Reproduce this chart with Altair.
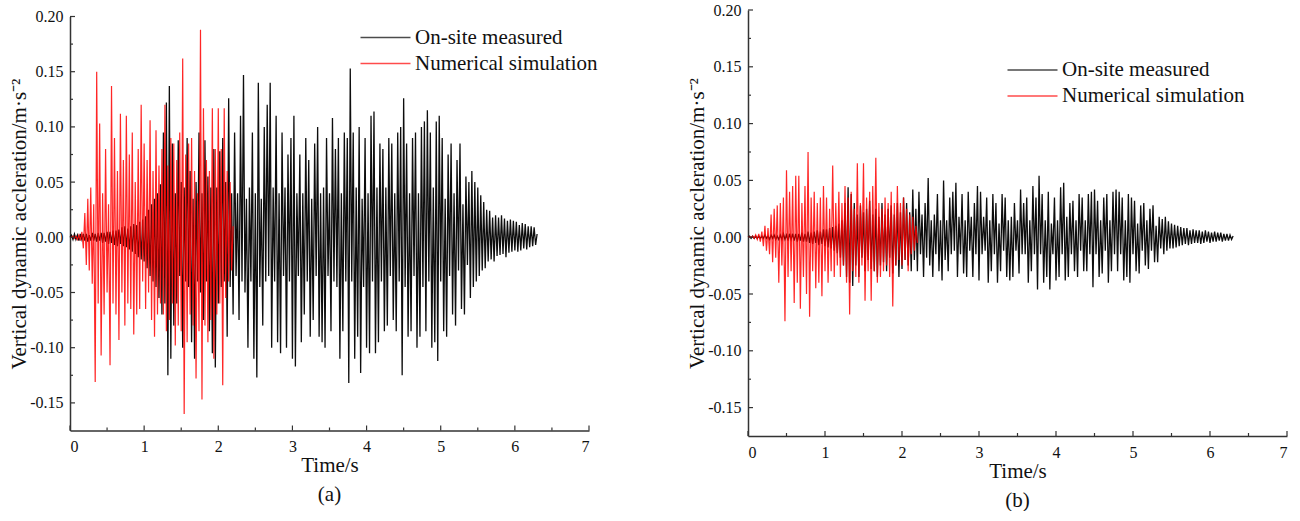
import altair as alt
import numpy as np
import pandas as pd

# ---------------- data (acceleration in 1e-3 m/s^2, sampled every DT s) -------------
DT = 0.02
SERIES = ["On-site measured", "Numerical simulation"]

MEAS_A = [
    0, 2, -2, 3, -2, 2, -3, 3, -2, 3,
    -3, 3, -4, 2, -3, 4, -3, 3, -4, 4,
    -3, 4, -5, 4, -4, 5, -6, 5, -5, 6,
    -7, 6, -8, 7, -6, 9, -8, 10, -9, 8,
    -11, 10, -13, 12, -15, 11, -18, 14, -20, 16,
    -22, 19, -28, 25, -35, 30, -40, 35, -45, 40,
    -55, 48, -70, 95, -60, 122, -125, 137, -110, 85,
    -80, 40, -60, 88, -35, 50, -100, 45, -40, 90,
    -45, 60, -95, 35, -110, 50, -40, 95, -50, 40,
    -75, 88, -40, 55, -85, 45, -105, 80, -118, 45,
    -60, 78, -45, 90, -40, 50, -90, 126, -45, 40,
    -70, 95, -35, 40, -75, 110, -40, 147, -50, 35,
    -100, 45, -40, 95, -110, 40, -127, 140, -45, 35,
    -80, 100, -40, 120, -35, 140, -100, 45, -40, 110,
    -95, 40, -105, 95, -35, 45, -100, 75, -40, 90,
    -110, 110, -117, 40, -35, 75, -95, 40, -70, 90,
    -40, 70, -90, 35, -75, 85, -35, 100, -90, 40,
    -95, 45, -100, 90, -35, 40, -85, 108, -40, 80,
    -45, 90, -110, 40, -85, 95, -40, 90, -132, 153,
    -40, 95, -110, 45, -90, 100, -123, 35, -45, 90,
    -100, 40, -105, 110, -40, 114, -105, 45, -95, 85,
    -40, 80, -85, 45, -80, 90, -35, 85, -75, 40,
    -85, 95, -40, 100, -125, 126, -45, 85, -90, 40,
    -85, 90, -35, 95, -100, 40, -90, 100, -45, 105,
    -85, 115, -40, 95, -100, 45, -95, 105, -112, 110,
    -40, 90, -85, 35, -90, 75, -35, 85, -70, 40,
    -80, 70, -30, 85, -65, 30, -70, 55, -25, 50,
    -55, 60, -45, 50, -40, 45, -35, 38, -30, 32,
    -28, 25, -22, 24, -20, 18, -22, 20, -17, 18,
    -16, 20, -15, 17, -18, 15, -14, 16, -13, 15,
    -12, 14, -13, 11, -12, 13, -10, 12, -11, 10,
    -9, 10, -8, 9, -7, 3,
]

SIM_A = [
    0, 0, 1, -1, 1, -2, 2, -3, 5, -10,
    22, -25, 35, -30, 45, -42, 30, -131, 150, -60,
    103, -107, 40, -70, 80, -50, 30, -116, 137, -60,
    90, -70, 60, -93, 112, -50, 70, -80, 110, -60,
    75, -65, 95, -88, 50, -70, 80, -65, 120, -40,
    85, -65, 70, -50, 106, -75, 60, -90, 97, -70,
    65, -60, 80, -70, 120, -85, 65, -75, 90, -60,
    85, -98, 70, -80, 95, -85, 162, -160, 75, -95,
    85, -70, 90, -80, 60, -128, 40, -85, 188, -147,
    117, -80, 70, -95, 60, -75, 117, -110, 80, -70,
    117, -60, 80, -134, 117, -55, 60, -40, 50, -30,
    10,
]

MEAS_B = [
    0, 1, -1, 1, -1, 1, -1, 1, -1, 1,
    -1, 2, -1, 1, -2, 2, -1, 2, -2, 1,
    -2, 2, -2, 3, -2, 2, -3, 3, -2, 3,
    -3, 3, -4, 3, -3, 4, -4, 3, -4, 5,
    -5, 4, -6, 5, -5, 6, -7, 5, -6, 7,
    -8, 7, -9, 8, -10, 9, -12, 10, -14, 12,
    -18, 15, -25, 30, -35, 44, -40, 38, -43, 30,
    -25, 20, -35, 28, -18, 22, -30, 25, -20, 32,
    -28, 20, -30, 25, -35, 18, -25, 30, -22, 20,
    -30, 25, -18, 28, -32, 20, -25, 30, -35, 22,
    -28, 35, -20, 30, -25, 22, -30, 42, -20, 25,
    -30, 40, -15, 20, -35, 30, -18, 52, -25, 15,
    -35, 20, -15, 38, -30, 15, -38, 50, -20, 15,
    -30, 35, -15, 40, -12, 48, -35, 18, -15, 38,
    -32, 15, -35, 40, -12, 18, -35, 30, -15, 45,
    -38, 40, -15, 18, -12, 35, -40, 15, -30, 38,
    -15, 30, -40, 12, -30, 38, -12, 35, -35, 15,
    -38, 18, -35, 30, -12, 15, -32, 42, -15, 30,
    -15, 35, -40, 15, -30, 45, -15, 35, -46, 54,
    -15, 38, -40, 15, -35, 40, -46, 12, -15, 35,
    -38, 15, -35, 44, -15, 48, -38, 18, -35, 30,
    -15, 32, -30, 15, -35, 38, -12, 35, -30, 15,
    -30, 38, -15, 40, -44, 42, -15, 32, -35, 15,
    -32, 35, -12, 38, -40, 15, -30, 40, -15, 42,
    -30, 40, -15, 35, -38, 15, -35, 38, -40, 35,
    -15, 32, -30, 12, -32, 28, -12, 30, -25, 15,
    -28, 25, -12, 28, -22, 10, -22, 18, -10, 16,
    -15, 18, -12, 14, -10, 12, -10, 11, -9, 10,
    -8, 9, -7, 8, -6, 8, -7, 6, -6, 7,
    -5, 6, -5, 6, -6, 5, -5, 6, -4, 5,
    -5, 4, -4, 5, -4, 4, -3, 4, -4, 3,
    -3, 3, -3, 2, -2, 1,
]

SIM_B = [
    0, 0, 0, 1, -1, 2, -2, 3, -4, 5,
    -8, 10, -12, 8, -15, 20, -22, 25, -18, 28,
    -40, 30, -25, 35, -74, 59, -35, 40, -30, 45,
    -58, 54, -40, 54, -63, 30, -35, 45, -50, 75,
    -70, 35, -30, 40, -45, 30, -40, 35, -52, 45,
    -30, 35, -40, 25, -30, 63, -35, 30, -25, 40,
    -35, 30, -25, 45, -40, 35, -68, 40, -30, 25,
    -35, 65, -40, 30, -25, 65, -56, 35, -30, 40,
    -56, 45, -30, 70, -40, 30, -35, 25, -30, 35,
    -25, 30, -35, 40, -61, 30, -25, 45, -20, 30,
    -25, 35, -20, 25, -30, 20, -15, 18, -12, 10,
    -5,
]

X_MAJOR = [0, 1, 2, 3, 4, 5, 6, 7]
X_MINOR = [0.5, 1.5, 2.5, 3.5, 4.5, 5.5, 6.5]
Y_MAJOR = [-0.15, -0.10, -0.05, 0.00, 0.05, 0.10, 0.15, 0.20]
Y_MINOR = [-0.125, -0.075, -0.025, 0.025, 0.075, 0.125, 0.175]

SERIF = "Liberation Serif"
Y_TITLE = "Vertical dynamic accleration/m\u00b7s\u207b\u00b2"


def frame(vals, name):
    return pd.DataFrame({
        "t": np.arange(len(vals)) * DT,
        "acc": np.array(vals, dtype=float) / 1000.0,
        "series": name,
    })


def panel(meas, sim, w, h, legx, legy, caption, cap_offset):
    xs = alt.Scale(domain=[0, 7], nice=False, zero=False)
    ys = alt.Scale(domain=[-0.175, 0.20], nice=False, zero=False)
    color = alt.Color(
        "series:N",
        scale=alt.Scale(domain=SERIES, range=["#000000", "#ff0000"]),
        legend=alt.Legend(
            orient="none", legendX=legx, legendY=legy, title=None,
            symbolType="M-1,0H9", symbolSize=100, symbolStrokeWidth=1.3,
            symbolOpacity=0.7, labelFont=SERIF, labelFontSize=21,
            labelColor="#111", labelOffset=39, rowPadding=4, padding=0,
            labelLimit=400,
        ),
    )
    xaxis = alt.Axis(
        values=X_MAJOR, format="d", title="Time/s",
        titlePadding=0, labelPadding=8,
    )
    yaxis = alt.Axis(
        values=Y_MAJOR, title=Y_TITLE, titlePadding=0, labelPadding=7,
        labelExpr="replace(format(datum.value, '.2f'), '\u2212', '-')",
    )
    X = lambda f: alt.X(f, scale=xs, axis=xaxis)
    Y = lambda f: alt.Y(f, scale=ys, axis=yaxis)
    m = alt.Chart(frame(meas, SERIES[0])).mark_line(
        strokeWidth=1.3, opacity=0.95
    ).encode(x=X("t:Q"), y=Y("acc:Q"), color=color)
    s = alt.Chart(frame(sim, SERIES[1])).mark_line(
        strokeWidth=1.2, opacity=0.85
    ).encode(x=X("t:Q"), y=Y("acc:Q"), color=color)
    tick_col = "#333"
    ymaj = alt.Chart(pd.DataFrame({"v": Y_MAJOR})).mark_rule(color=tick_col, strokeWidth=1.2).encode(
        y=Y("v:Q"), x=alt.value(0), x2=alt.value(5))
    ymin = alt.Chart(pd.DataFrame({"v": Y_MINOR})).mark_rule(color=tick_col, strokeWidth=1.2).encode(
        y=Y("v:Q"), x=alt.value(0), x2=alt.value(3))
    xmaj = alt.Chart(pd.DataFrame({"v": X_MAJOR})).mark_rule(color=tick_col, strokeWidth=1.2).encode(
        x=X("v:Q"), y=alt.value(h), y2=alt.value(h - 5))
    xmin = alt.Chart(pd.DataFrame({"v": X_MINOR})).mark_rule(color=tick_col, strokeWidth=1.2).encode(
        x=X("v:Q"), y=alt.value(h), y2=alt.value(h - 3))
    return alt.layer(m, s, ymaj, ymin, xmaj, xmin).properties(
        width=w, height=h,
        title=alt.TitleParams(
            caption, orient="bottom", anchor="middle", font=SERIF, fontSize=21,
            fontWeight="normal", color="#111", offset=cap_offset,
        ),
    )


pa = panel(MEAS_A, SIM_A, 519, 414, 285, 10.5, "(a)", 8)
pb = panel(MEAS_B, SIM_B, 539, 426, 254, 49.5, "(b)", 9)

chart = alt.hconcat(pa, pb, spacing=88, center=True).resolve_scale(
    x="independent", y="independent", color="independent"
).resolve_legend(color="independent").properties(
    padding={"left": 8, "top": 2, "right": 2, "bottom": 0},
    background="white",
).configure_view(stroke=None).configure_axis(
    grid=False, tickSize=0, domainColor="#333", domainWidth=1.5,
    labelFont=SERIF, labelFontSize=16, labelColor="#111",
    titleFont=SERIF, titleFontSize=21, titleFontWeight="normal", titleColor="#111",
)

chart.save("out.html", embed_options={"renderer": "svg", "actions": False})
